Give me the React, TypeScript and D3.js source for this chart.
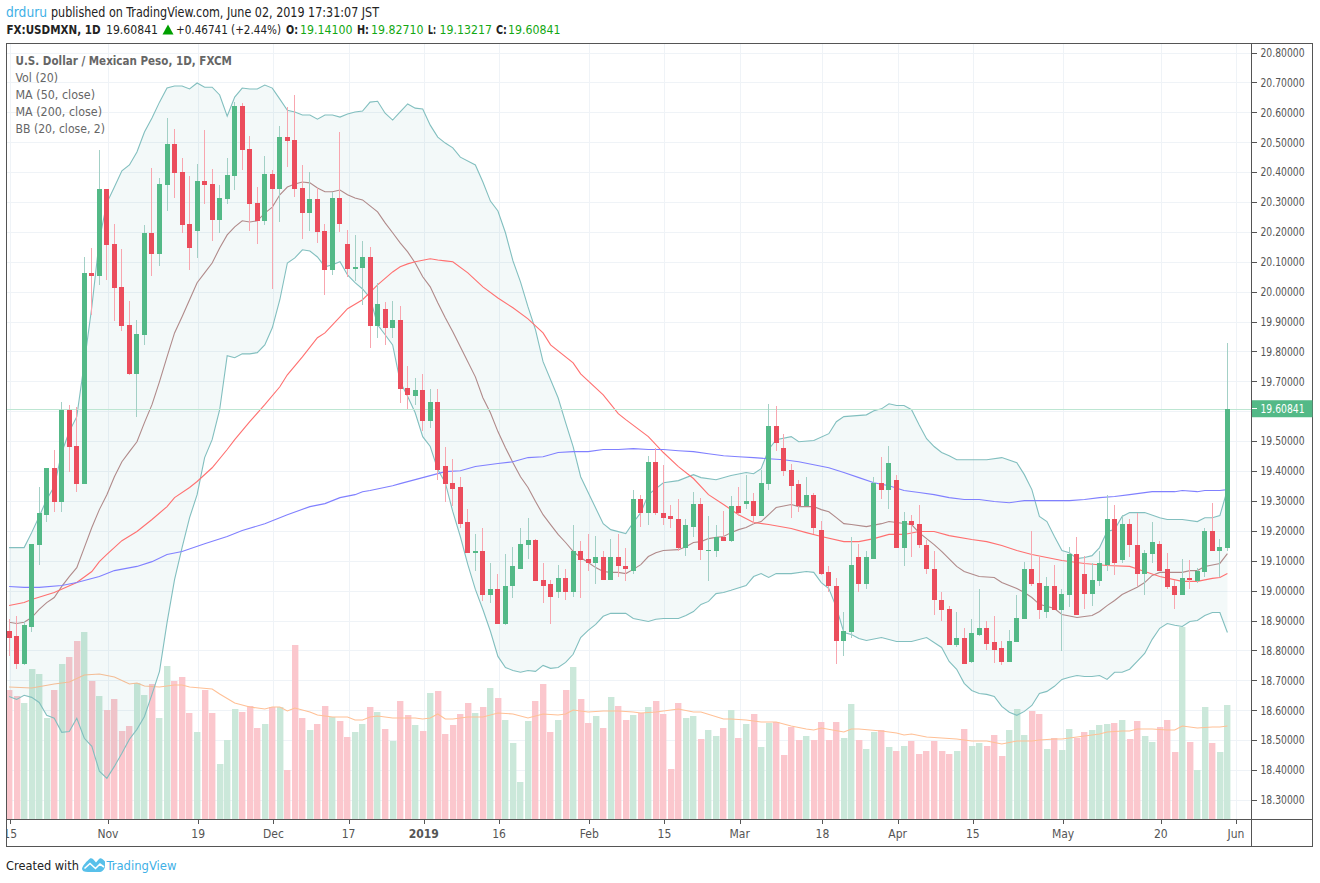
import React from "react";
import * as d3 from "d3";

// ---- candles (USD/MXN daily)
const bodyTop = [18.864,18.847,18.884,19.157,19.258,19.411,19.411,19.605,19.605,19.485,20.063,20.063,20.344,20.344,20.160,20.016,19.889,19.859,20.197,20.197,
20.360,20.494,20.494,20.400,20.227,20.370,20.370,20.360,20.313,20.390,20.621,20.621,20.477,20.297,20.394,20.394,20.517,20.517,20.507,20.347,
20.310,20.310,20.203,20.313,20.313,20.160,20.083,20.116,20.116,19.959,19.943,19.906,19.906,19.679,19.672,19.672,19.632,19.632,19.418,19.361,
19.345,19.228,19.134,19.134,19.004,19.004,19.017,19.084,19.157,19.171,19.171,19.034,19.021,19.041,19.041,19.134,19.134,19.107,19.111,19.111,
19.114,19.114,19.084,19.308,19.308,19.431,19.431,19.261,19.251,19.241,19.218,19.291,19.291,19.137,19.178,19.178,19.284,19.284,19.301,19.301,
19.361,19.552,19.552,19.478,19.405,19.355,19.321,19.321,19.204,19.061,19.017,18.864,19.087,19.111,19.111,19.361,19.361,19.428,19.371,19.234,
19.234,19.224,19.154,19.071,18.970,18.937,18.843,18.843,18.857,18.874,18.874,18.827,18.807,18.830,18.907,19.071,19.071,19.024,19.017,19.017,
18.990,19.121,19.121,19.054,19.034,19.091,19.238,19.238,19.224,19.224,19.154,19.127,19.164,19.157,19.071,19.014,19.041,19.041,19.064,19.198,
19.198,19.147,19.60841];
const bodyBottom = [18.843,18.753,18.753,18.880,19.154,19.254,19.298,19.298,19.482,19.358,19.358,20.053,20.053,20.156,20.013,19.886,19.725,19.725,19.856,20.126,
20.126,20.357,20.397,20.223,20.146,20.203,20.357,20.240,20.240,20.310,20.387,20.474,20.293,20.237,20.237,20.344,20.344,20.504,20.344,20.263,
20.263,20.200,20.073,20.073,20.227,20.076,20.076,20.080,19.886,19.886,19.879,19.879,19.675,19.655,19.652,19.568,19.568,19.405,19.358,19.341,
19.224,19.127,19.127,18.984,18.984,18.890,18.890,19.014,19.071,19.154,19.031,19.017,18.980,18.997,18.997,18.997,19.104,19.094,19.094,19.034,
19.034,19.081,19.074,19.064,19.258,19.258,19.258,19.244,19.238,19.144,19.144,19.214,19.137,19.134,19.134,19.167,19.167,19.258,19.291,19.248,
19.248,19.358,19.495,19.401,19.351,19.284,19.284,19.208,19.057,19.014,18.830,18.830,18.860,19.021,19.021,19.107,19.338,19.338,19.144,19.144,
19.221,19.151,19.071,18.967,18.934,18.817,18.817,18.753,18.760,18.853,18.823,18.803,18.760,18.760,18.827,18.904,19.021,18.934,18.927,18.934,
18.934,18.987,18.920,18.990,18.990,19.031,19.087,19.094,19.101,19.151,19.054,19.054,19.124,19.067,19.011,18.987,18.987,19.037,19.031,19.061,
19.131,19.131,19.14100];
const highs = [18.904,18.914,18.897,19.157,19.345,19.411,19.472,19.632,19.622,19.615,20.116,20.146,20.474,20.344,20.227,20.143,19.969,19.906,20.223,20.414,
20.380,20.581,20.544,20.447,20.387,20.427,20.541,20.410,20.357,20.447,20.634,20.631,20.521,20.350,20.454,20.407,20.554,20.617,20.658,20.424,
20.400,20.347,20.227,20.334,20.534,20.207,20.190,20.170,20.150,20.030,19.966,19.969,19.953,19.752,19.712,19.725,19.675,19.675,19.482,19.441,
19.381,19.274,19.191,19.211,19.094,19.057,19.121,19.147,19.208,19.244,19.174,19.094,19.037,19.087,19.071,19.218,19.167,19.191,19.184,19.134,
19.174,19.191,19.141,19.335,19.321,19.451,19.478,19.421,19.288,19.305,19.238,19.331,19.311,19.248,19.218,19.268,19.318,19.345,19.388,19.328,
19.405,19.625,19.619,19.525,19.425,19.371,19.381,19.325,19.234,19.084,19.041,18.927,19.181,19.157,19.131,19.381,19.448,19.485,19.388,19.264,
19.254,19.288,19.171,19.134,18.994,18.950,18.927,18.874,18.904,19.004,18.900,18.914,18.833,18.867,18.987,19.097,19.201,19.111,19.044,19.087,
19.004,19.147,19.181,19.117,19.094,19.134,19.321,19.288,19.254,19.238,19.261,19.137,19.228,19.167,19.127,19.037,19.107,19.101,19.077,19.211,
19.294,19.174,19.82710];
const lows = [18.780,18.737,18.750,18.860,19.087,19.228,19.264,19.264,19.398,19.331,19.358,19.923,20.023,20.040,19.903,19.869,19.722,19.582,19.822,20.053,
20.086,20.270,20.313,20.197,20.073,20.113,20.293,20.170,20.197,20.293,20.340,20.407,20.203,20.160,20.223,20.009,20.233,20.417,20.317,20.177,
20.203,20.163,19.989,20.056,20.200,20.050,20.036,19.956,19.812,19.846,19.822,19.846,19.629,19.609,19.622,19.535,19.545,19.371,19.298,19.284,
19.208,19.127,19.064,18.964,18.957,18.890,18.884,18.974,19.071,19.107,19.031,18.960,18.887,18.974,18.970,18.980,18.977,19.067,19.021,19.034,
19.034,19.044,19.031,19.054,19.214,19.218,19.254,19.221,19.208,19.131,19.117,19.178,19.104,19.031,19.111,19.167,19.161,19.248,19.274,19.224,
19.248,19.338,19.468,19.385,19.244,19.264,19.284,19.188,19.051,18.994,18.753,18.780,18.843,18.994,19.004,19.107,19.305,19.274,19.144,19.081,
19.111,19.141,19.054,18.917,18.897,18.817,18.813,18.753,18.757,18.847,18.803,18.757,18.750,18.760,18.827,18.904,19.017,18.904,18.907,18.934,
18.797,18.944,18.920,18.940,18.947,19.014,19.064,19.051,19.091,19.111,19.017,18.984,19.094,19.064,19.007,18.940,18.984,19.004,19.024,19.044,
19.131,19.047,19.13217];
const upDays = [2,3,4,5,7,10,12,17,18,20,21,25,28,29,30,34,36,40,43,46,47,49,51,54,56,62,64,66,67,68,69,73,75,78,80,83,85,90,91,93,94,96,98,100,101,106,111,112,114,115,117,119,126,128,129,133,134,135,138,140,141,144,145,146,148,151,152,156,158,159,161,162];

// ---- volume, arbitrary units
const volumes = [129,123,116,150,145,101,129,155,162,178,187,138,123,109,120,88,93,136,124,135,101,153,138,142,106,87,129,106,55,79,110,107,113,91,95,112,112,49,174,101,89,95,113,102,98,82,87,95,112,107,90,78,118,104,94,88,126,128,
85,94,105,116,106,112,131,121,99,76,37,98,118,135,87,99,129,152,120,96,103,91,122,113,99,104,106,112,118,105,50,116,101,103,80,89,83,91,109,81,95,105,72,96,97,64,92,79,83,79,97,79,97,81,115,79,70,
87,89,72,68,73,78,65,68,78,68,65,68,90,73,76,73,84,63,89,110,84,108,105,70,81,69,90,81,87,89,94,95,96,99,80,98,83,77,92,99,67,192,77,49,112,76,67,114];

const volumeMA: [number, number][] = [[0,132],[3,131],[6,135],[8,137],[10,144],[12,145],[14,142],[16,135],[17,136],[18,133],[20,132],[22,134],[23,134],[24,132],[27,130],[28,125],[30,116],[32,112],[34,110],[35,112],[36,112],[37,108],[38,111],[40,107],[41,104],[43,102],[45,102],[46,99],[47,99],[48,102],[49,103],[51,101],[54,101],[55,100],[56,101],[57,105],[58,100],[59,100],[61,102],[63,102],[65,106],[67,105],[69,101],[71,105],[73,104],[74,105],[75,109],[77,107],[79,108],[81,108],[83,107],[84,106],[86,107],[89,110],[91,107],[92,107],[95,100],[96,100],[98,99],[100,97],[102,97],[104,93],[106,90],[107,89],[108,91],[111,87],[112,90],[113,90],[116,88],[118,86],[119,84],[120,85],[122,82],[124,81],[126,80],[128,78],[130,78],[132,75],[134,78],[136,78],[137,79],[139,80],[140,80],[141,81],[143,83],[145,85],[146,87],[148,88],[149,88],[150,90],[152,90],[154,89],[155,89],[156,93],[158,91],[160,92],[161,92],[162,93]];

// ---- indicators: [bar, price]
const bbUpper: [number, number][] = [[0,19.144],[2,19.144],[3,19.194],[4,19.248],[5,19.305],[6,19.348],[7,19.462],[8,19.532],[9,19.582],[10,19.762],[11,19.949],[12,20.173],[13,20.297],[14,20.350],[15,20.404],[16,20.424],[17,20.467],[18,20.534],[19,20.581],[20,20.634],[21,20.681],[22,20.688],[23,20.688],[24,20.678],[25,20.698],[26,20.684],[27,20.684],[28,20.658],[29,20.587],[30,20.651],[31,20.681],[32,20.678],[33,20.678],[34,20.691],[35,20.681],[36,20.644],[37,20.607],[38,20.601],[39,20.591],[40,20.591],[41,20.577],[42,20.591],[43,20.591],[44,20.584],[45,20.594],[46,20.601],[47,20.604],[48,20.634],[49,20.637],[50,20.597],[51,20.574],[52,20.601],[53,20.628],[54,20.614],[55,20.611],[56,20.557],[57,20.517],[58,20.497],[59,20.481],[60,20.450],[62,20.424],[63,20.367],[64,20.303],[65,20.270],[66,20.197],[67,20.103],[68,20.033],[69,19.949],[70,19.872],[71,19.766],[73,19.645],[74,19.562],[75,19.482],[76,19.381],[77,19.328],[79,19.224],[80,19.204],[82,19.191],[83,19.228],[84,19.261],[85,19.321],[87,19.361],[89,19.368],[91,19.388],[92,19.378],[94,19.371],[96,19.385],[98,19.395],[99,19.391],[100,19.408],[101,19.472],[102,19.505],[104,19.515],[105,19.498],[107,19.502],[109,19.525],[110,19.565],[111,19.582],[114,19.588],[115,19.602],[116,19.608],[117,19.625],[118,19.619],[119,19.619],[120,19.605],[121,19.555],[122,19.508],[123,19.482],[124,19.462],[125,19.451],[126,19.438],[128,19.438],[130,19.438],[132,19.445],[134,19.428],[135,19.388],[136,19.338],[137,19.248],[138,19.231],[139,19.181],[140,19.134],[141,19.127],[142,19.107],[143,19.111],[144,19.117],[145,19.144],[146,19.198],[147,19.204],[148,19.248],[149,19.261],[151,19.261],[153,19.244],[154,19.238],[156,19.238],[158,19.231],[159,19.244],[160,19.244],[161,19.251],[162,19.338]];
const bbLower: [number, number][] = [[0,18.646],[1,18.636],[2,18.650],[3,18.643],[4,18.626],[5,18.583],[6,18.573],[7,18.526],[8,18.529],[9,18.573],[10,18.506],[11,18.479],[12,18.396],[13,18.372],[14,18.412],[15,18.456],[16,18.503],[17,18.536],[18,18.579],[19,18.653],[20,18.730],[21,18.893],[22,19.037],[23,19.144],[24,19.244],[25,19.321],[26,19.445],[27,19.505],[28,19.605],[29,19.786],[30,19.779],[31,19.792],[32,19.792],[33,19.796],[34,19.822],[35,19.879],[36,19.973],[37,20.096],[38,20.113],[39,20.140],[40,20.136],[41,20.116],[42,20.083],[43,20.090],[44,20.100],[45,20.056],[46,20.030],[47,20.009],[48,19.979],[49,19.889],[50,19.856],[51,19.822],[52,19.699],[53,19.649],[54,19.595],[55,19.515],[56,19.482],[57,19.405],[58,19.361],[59,19.264],[60,19.181],[61,19.087],[62,19.004],[63,18.937],[64,18.864],[65,18.780],[66,18.743],[67,18.733],[68,18.727],[69,18.733],[70,18.730],[71,18.750],[72,18.740],[73,18.743],[74,18.760],[75,18.787],[76,18.843],[77,18.867],[78,18.887],[79,18.914],[80,18.924],[82,18.924],[83,18.907],[85,18.897],[86,18.904],[87,18.907],[89,18.907],[90,18.917],[91,18.930],[92,18.954],[93,18.964],[94,18.990],[95,18.994],[96,19.001],[98,19.017],[99,19.047],[100,19.057],[101,19.044],[102,19.057],[104,19.057],[106,19.064],[107,19.061],[108,19.027],[109,19.007],[110,18.944],[111,18.860],[112,18.853],[113,18.840],[114,18.833],[116,18.843],[118,18.830],[120,18.830],[122,18.843],[124,18.810],[125,18.763],[126,18.737],[127,18.690],[128,18.666],[129,18.656],[130,18.653],[131,18.646],[132,18.613],[133,18.593],[134,18.583],[135,18.596],[136,18.616],[137,18.656],[138,18.663],[139,18.680],[140,18.703],[141,18.710],[142,18.716],[143,18.713],[144,18.713],[145,18.716],[146,18.703],[147,18.727],[148,18.727],[149,18.737],[150,18.763],[151,18.790],[152,18.837],[153,18.874],[154,18.890],[155,18.884],[156,18.880],[157,18.897],[158,18.900],[159,18.917],[160,18.927],[161,18.927],[162,18.860]];
const bbBasis: [number, number][] = [[0,18.894],[1,18.890],[2,18.894],[3,18.910],[4,18.937],[5,18.960],[6,18.977],[7,19.014],[8,19.047],[9,19.077],[10,19.144],[11,19.211],[12,19.271],[13,19.321],[14,19.381],[15,19.431],[16,19.465],[17,19.498],[18,19.562],[19,19.622],[20,19.699],[21,19.782],[22,19.862],[23,19.916],[24,19.973],[25,20.030],[26,20.063],[27,20.096],[28,20.146],[29,20.190],[30,20.217],[31,20.237],[32,20.233],[33,20.237],[34,20.263],[35,20.283],[36,20.324],[37,20.350],[38,20.360],[39,20.367],[40,20.364],[41,20.347],[42,20.334],[43,20.334],[44,20.340],[45,20.324],[46,20.313],[47,20.307],[48,20.287],[49,20.267],[50,20.230],[51,20.197],[52,20.163],[53,20.133],[54,20.096],[55,20.050],[56,20.016],[57,19.963],[58,19.913],[59,19.866],[60,19.816],[62,19.715],[63,19.645],[64,19.595],[65,19.532],[66,19.478],[67,19.428],[68,19.381],[69,19.345],[70,19.298],[71,19.254],[72,19.221],[73,19.188],[74,19.161],[75,19.131],[76,19.111],[77,19.094],[78,19.077],[79,19.064],[80,19.061],[81,19.061],[82,19.057],[83,19.071],[84,19.087],[85,19.114],[86,19.127],[87,19.134],[89,19.137],[90,19.147],[91,19.161],[92,19.164],[93,19.174],[94,19.178],[95,19.181],[96,19.194],[97,19.204],[98,19.211],[99,19.224],[100,19.231],[101,19.254],[102,19.278],[104,19.288],[105,19.281],[107,19.281],[108,19.271],[109,19.264],[110,19.244],[111,19.224],[112,19.221],[114,19.214],[116,19.224],[117,19.231],[118,19.228],[120,19.221],[121,19.194],[123,19.154],[124,19.131],[126,19.081],[127,19.064],[129,19.047],[131,19.044],[132,19.027],[134,19.007],[135,18.994],[136,18.977],[137,18.954],[139,18.940],[140,18.920],[142,18.910],[144,18.917],[145,18.930],[146,18.950],[147,18.967],[148,18.987],[150,19.011],[151,19.027],[152,19.051],[153,19.061],[155,19.061],[156,19.061],[157,19.067],[158,19.067],[159,19.081],[161,19.091],[162,19.124]];
const ma50: [number, number][] = [[0,18.950],[2,18.960],[3,18.970],[6,18.994],[9,19.027],[11,19.064],[12,19.097],[13,19.121],[15,19.167],[17,19.198],[19,19.238],[21,19.281],[22,19.311],[24,19.345],[25,19.365],[27,19.411],[29,19.472],[30,19.505],[32,19.565],[34,19.622],[36,19.682],[37,19.722],[39,19.782],[41,19.846],[42,19.862],[44,19.916],[45,19.943],[47,19.973],[49,20.023],[51,20.066],[52,20.083],[53,20.093],[54,20.100],[56,20.110],[57,20.106],[58,20.103],[59,20.100],[61,20.063],[63,20.016],[65,19.979],[67,19.946],[69,19.909],[71,19.862],[72,19.822],[75,19.762],[76,19.725],[79,19.655],[81,19.592],[82,19.572],[85,19.515],[87,19.462],[89,19.415],[91,19.375],[93,19.321],[95,19.288],[97,19.254],[99,19.228],[101,19.221],[104,19.208],[106,19.194],[108,19.181],[111,19.164],[113,19.164],[115,19.174],[117,19.188],[119,19.188],[121,19.198],[123,19.198],[125,19.184],[128,19.171],[130,19.164],[132,19.151],[134,19.134],[136,19.121],[138,19.111],[140,19.101],[143,19.091],[146,19.084],[149,19.081],[151,19.064],[153,19.047],[156,19.031],[158,19.031],[160,19.041],[161,19.044],[162,19.057]];
const ma200: [number, number][] = [[0,19.014],[2,19.011],[4,19.011],[7,19.017],[9,19.027],[12,19.047],[14,19.067],[17,19.081],[19,19.097],[21,19.121],[23,19.131],[26,19.157],[29,19.181],[31,19.201],[34,19.224],[37,19.254],[40,19.281],[42,19.291],[44,19.311],[46,19.321],[47,19.331],[48,19.335],[51,19.351],[52,19.358],[55,19.378],[58,19.398],[60,19.401],[62,19.415],[65,19.425],[67,19.431],[69,19.445],[71,19.448],[73,19.462],[75,19.465],[77,19.465],[79,19.472],[81,19.472],[83,19.475],[85,19.472],[87,19.472],[89,19.468],[91,19.465],[93,19.458],[95,19.451],[97,19.448],[99,19.445],[101,19.441],[103,19.438],[105,19.431],[107,19.421],[109,19.411],[111,19.395],[113,19.378],[115,19.361],[117,19.351],[119,19.335],[121,19.328],[123,19.321],[125,19.311],[127,19.305],[129,19.305],[131,19.298],[133,19.294],[135,19.301],[141,19.301],[143,19.305],[145,19.311],[147,19.315],[149,19.321],[152,19.331],[155,19.331],[156,19.335],[158,19.331],[159,19.335],[161,19.335],[162,19.338]];

// ---- axes
const priceTicks = [20.8,20.7,20.6,20.5,20.4,20.3,20.2,20.1,20.0,19.9,19.8,19.7,19.5,19.4,19.3,19.2,19.1,19.0,18.9,18.8,18.7,18.6,18.5,18.4,18.3];
const gridPrices = [...priceTicks, 19.6];
const timeBars = [0,13,25,35,45,55,65,77,87,97,108,118,128,140,153,163];
const timeLabels = ["15","Nov","19","Dec","17","2019","16","Feb","15","Mar","18","Apr","15","May","20","Jun"];
const lastPrice = 19.60841;

// ---- text
const legendLines = ["Vol (20)","MA (50, close)","MA (200, close)","BB (20, close, 2)"];
const legendWidths = [42.5,79.5,86.5,89.5];
const chartTitle = "U.S. Dollar / Mexican Peso, 1D, FXCM";
const ohlcLetters = ["O:","H:","L:","C:"];
const ohlcValues = ["19.14100","19.82710","19.13217","19.60841"];
const ohlcLetterX = [286,357,428,496];
const ohlcLetterW = [12,12,8,11];
const ohlcValueX = [300,371,439.5,508];

const FONT = "'DejaVu Sans Condensed','Noto Sans',sans-serif";
const GREEN = "#53b987", RED = "#eb4d5c";
const L = 7, T = 44, R = 1313, B = 846, AXX = 1251, AXY = 819;

const Fit = ({ w, children, ...rest }: any) => (
  <text textLength={w} lengthAdjust="spacingAndGlyphs" {...rest}>{children}</text>
);

export default function App() {
  const x = d3.scaleLinear().domain([0, 162]).range([9.1, 1227.4]);
  const y = d3.scaleLinear().domain([18.3, 20.8]).range([799.9, 52.5]);
  const v = d3.scaleLinear().domain([0, 200]).range([AXY, 619]);
  const line = d3.line<[number, number]>().x(d => x(d[0])).y(d => y(d[1]));
  const volLine = d3.line<[number, number]>().x(d => x(d[0])).y(d => v(d[1]));
  const band = line([...bbUpper, ...[...bbLower].reverse()]) + "Z";
  const up = new Set(upDays);
  const tx = (i: number) => x(i) + 1.1;

  return (
    <svg width={1320} height={883} style={{ position: "absolute", left: 0, top: 0, background: "#fff" }} fontFamily={FONT}>
      <defs>
        <clipPath id="plot"><rect x={L} y={T} width={AXX - L} height={AXY - T} /></clipPath>
        <clipPath id="timeaxis"><rect x={L} y={AXY} width={AXX - L} height={B - AXY} /></clipPath>
      </defs>

      {/* header */}
      <Fit x={6} y={17} w={41} fontSize={13.5} fill="#3fb0e6">drduru</Fit>
      <Fit x={51} y={17} w={328} fontSize={13.5} fill="#222">published on TradingView.com, June 02, 2019 17:31:07 JST</Fit>
      <Fit x={6.5} y={34} w={94} fontSize={12} fontWeight="bold" fill="#222">FX:USDMXN, 1D</Fit>
      <Fit x={106} y={34} w={52} fontSize={13} fill="#222">19.60841</Fit>
      <path d="M162.5,34.5L168,24.5L173.5,34.5Z" fill="#00a000" />
      <Fit x={176} y={34} w={105} fontSize={12} fill="#222">+0.46741 (+2.44%)</Fit>
      {ohlcLetters.map((t, i) => (
        <React.Fragment key={t}>
          <Fit x={ohlcLetterX[i]} y={34} w={ohlcLetterW[i]} fontSize={12} fontWeight="bold" fill="#222">{t}</Fit>
          <Fit x={ohlcValueX[i]} y={34} w={52.5} fontSize={13} fill="#13a813">{ohlcValues[i]}</Fit>
        </React.Fragment>
      ))}

      {/* grid */}
      <g stroke="#eff3f7" strokeWidth={1} shapeRendering="crispEdges">
        {gridPrices.map(p => <line key={p} x1={L} x2={AXX} y1={Math.round(y(p)) + 0.5} y2={Math.round(y(p)) + 0.5} />)}
        {timeBars.map(i => <line key={i} x1={Math.round(tx(i)) + 0.5} x2={Math.round(tx(i)) + 0.5} y1={T} y2={AXY} />)}
      </g>

      <g clipPath="url(#plot)">
        {/* volume */}
        {volumes.map((vol, i) => (
          <rect key={i} x={Math.round(x(i) - 3.1)} width={6.4} y={v(vol)} height={AXY - v(vol)}
            fill={up.has(i) ? "#cbe8da" : "#fbc7cd"} />
        ))}
        <path d={volLine(volumeMA)!} fill="none" stroke="#ffc096" strokeWidth={1.1} />

        {/* bands */}
        <path d={band} fill="#198787" fillOpacity={0.05} />
        <path d={line(bbUpper)!} fill="none" stroke="#82bfbf" strokeWidth={1.1} />
        <path d={line(bbLower)!} fill="none" stroke="#82bfbf" strokeWidth={1.1} />
        <path d={line(bbBasis)!} fill="none" stroke="#b08a8a" strokeWidth={1.1} />
        <path d={line(ma50)!} fill="none" stroke="#ff7070" strokeWidth={1.1} />
        <path d={line(ma200)!} fill="none" stroke="#8080ff" strokeWidth={1.1} />

        {/* last price line */}
        <line x1={L} x2={AXX} y1={Math.round(y(lastPrice)) + 0.5} y2={Math.round(y(lastPrice)) + 0.5} stroke="#bde6d2" strokeWidth={1} shapeRendering="crispEdges" />

        {/* candles */}
        {highs.map((h, i) => {
          const isUp = up.has(i);
          const left = Math.round(x(i) - 2.5);
          const yt = Math.round(y(bodyTop[i]));
          const yb = Math.round(y(bodyBottom[i]));
          return (
            <g key={i} shapeRendering="crispEdges">
              <rect x={left + 2} width={1} y={Math.round(y(h))} height={Math.round(y(lows[i])) - Math.round(y(h))}
                fill={isUp ? "#a3d0c6" : "#f8a6af"} />
              <rect x={left} width={5} y={yt} height={Math.max(1, yb - yt)} fill={isUp ? GREEN : RED} />
            </g>
          );
        })}

        {/* legend */}
        <Fit x={15.5} y={65} w={216.4} fontSize={13} fontWeight="600" fill="#666">{chartTitle}</Fit>
        {legendLines.map((t, i) => (
          <Fit key={t} x={15.5} y={81.5 + i * 17} w={legendWidths[i]} fontSize={13} fill="#666">{t}</Fit>
        ))}
      </g>

      {/* frame */}
      <g fill="none" stroke="#555" strokeWidth={1} shapeRendering="crispEdges">
        <rect x={L - 0.5} y={T - 0.5} width={R - L} height={B - T + 1} strokeWidth={1.4} />
        <line x1={AXX + 0.5} x2={AXX + 0.5} y1={T} y2={B} />
        <line x1={L} x2={R} y1={AXY + 0.5} y2={AXY + 0.5} />
      </g>

      {/* price axis */}
      <g fontSize={12} fill="#555">
        {priceTicks.map(p => (
          <g key={p}>
            <line x1={AXX + 1} x2={AXX + 6} y1={Math.round(y(p)) + 0.5} y2={Math.round(y(p)) + 0.5} stroke="#555" shapeRendering="crispEdges" />
            <Fit x={1260.5} y={y(p)} dy="0.36em" w={44}>{p.toFixed(5)}</Fit>
          </g>
        ))}
      </g>
      <rect x={AXX + 1} y={y(lastPrice) - 8.5} width={R - AXX - 1.5} height={17} fill={GREEN} />
      <line x1={AXX + 1} x2={AXX + 6} y1={y(lastPrice)} y2={y(lastPrice)} stroke="#fff" shapeRendering="crispEdges" />
      <Fit x={1260.5} y={y(lastPrice)} dy="0.36em" w={44} fontSize={12} fill="#fff">{lastPrice.toFixed(5)}</Fit>

      {/* time axis */}
      <g clipPath="url(#timeaxis)" fontSize={12} fill="#555" textAnchor="middle">
        {timeBars.map((i, k) => (
          <g key={i}>
            <line x1={Math.round(tx(i)) + 0.5} x2={Math.round(tx(i)) + 0.5} y1={AXY + 1} y2={AXY + 5} stroke="#555" shapeRendering="crispEdges" />
            <text x={tx(i)} y={838} fontWeight={timeLabels[k] === "2019" ? "bold" : "normal"}>{timeLabels[k]}</text>
          </g>
        ))}
      </g>

      {/* footer */}
      <Fit x={6} y={870} w={73} fontSize={13} fill="#222">Created with</Fit>
      <path d="M82,868.5C83,865 87,861 90,858.5C92,857.5 94,860 96,862.5L99,859C100.5,857.5 102,858.5 105,861.5L105,866.5C104.5,870 102,872 99,872L88,872C84,872 82,871 82,868.5Z" fill="#58c0ea" />
      <path d="M84.5,868.5L90,863.5L95.5,868.5L100,864L104,867" fill="none" stroke="#fff" strokeWidth={1.6} />
      <Fit x={106.5} y={870} w={70} fontSize={13} fill="#3fb0e6">TradingView</Fit>
    </svg>
  );
}
